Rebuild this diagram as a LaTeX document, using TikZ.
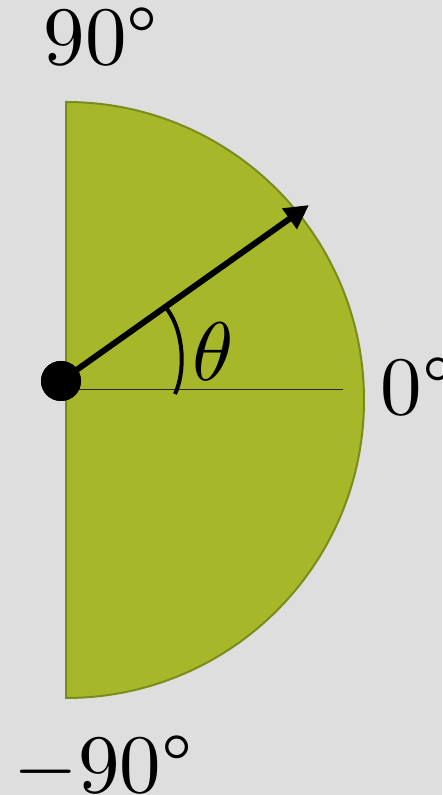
\documentclass[tikz,border=0pt]{standalone}
\usetikzlibrary{arrows.meta}
\definecolor{bgc}{HTML}{DEDEDE}
\definecolor{olivefill}{HTML}{A7B72A}
\definecolor{oliveline}{HTML}{7B8C1A}
\begin{document}
\begin{tikzpicture}[x=1pt,y=1pt,
  lbl/.style={inner sep=0pt,anchor=base west,font=\fontsize{10}{12}\selectfont,scale=8.3},
  halfdisk/.style={fill=olivefill,draw=oliveline,line width=2pt},
  pointer/.style={line width=6pt,-{Triangle[length=24pt,width=24pt]}},
  angmark/.style={line width=4pt},
  axisline/.style={draw=black!85,line width=1.5pt}]
\fill[bgc] (0,0) rectangle (442,795);
\useasboundingbox (0,0) rectangle (442,795);
% half disk
\coordinate (ctr) at (66,395);
\draw[halfdisk] (66,693) arc[start angle=90,end angle=-90,radius=298] -- cycle;
% axis line
\coordinate (axend) at (343,405.5);
\node[circle,fill=black,minimum size=40pt,inner sep=0pt] (dot) at (61,414) {};
\draw[axisline] (dot.center |- axend) -- (axend);
% pointer arrow
\coordinate (tip) at (309,590);
\draw[pointer] (dot.center) -- (tip);
\fill (dot) circle (20pt);
% angle mark
\draw[angmark] (167,486) .. controls (185,462) and (185,422) .. (175,401);
\node[lbl,anchor=center] (theta) at (213,443) {$\theta$};
% labels
\node[lbl] (l90) at (42,730) {90\textdegree};
\node[lbl] (l0) at (379,380) {0\textdegree};
\node[lbl] (lm90) at (12,3) {$-$90\textdegree};
\end{tikzpicture}
\end{document}
